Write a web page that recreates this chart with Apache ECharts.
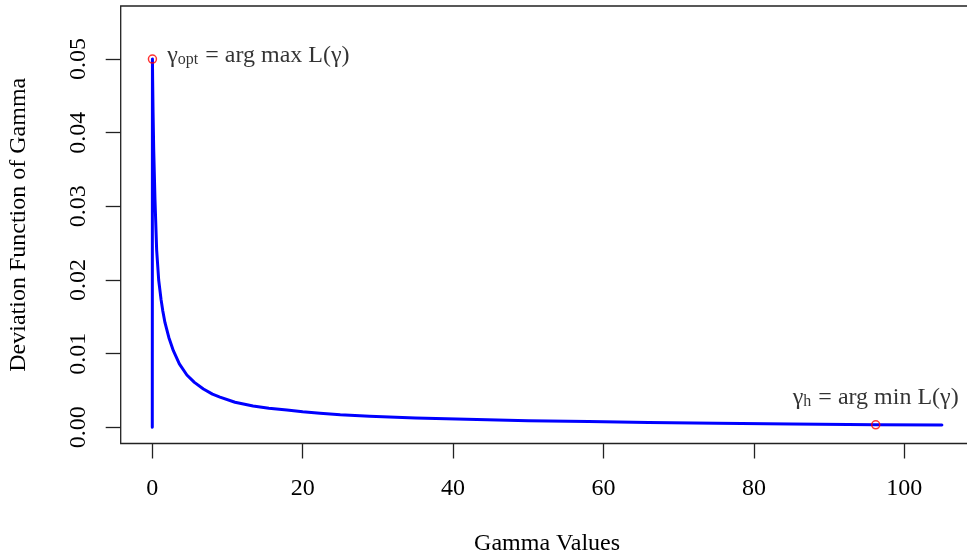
<!DOCTYPE html>
<html>
<head>
<meta charset="utf-8">
<script src="https://cdn.jsdelivr.net/npm/echarts@6/dist/echarts.min.js"></script>
<style>
html,body{margin:0;padding:0;background:#fff;}
#chart{width:967px;height:554px;}
</style>
</head>
<body>
<div id="chart"></div>
<script>
// Data
const gammaValues = [0, 0.02, 0.05, 0.1, 0.19, 0.36, 0.58, 0.85, 1.16, 1.4, 1.69, 2.2, 2.8, 3.6, 4.6, 5.6, 6.8, 8.0, 9.0, 11.0, 13.4, 15.5, 17.9, 20.0, 22.3, 25.0, 28.9, 35.0, 41.8, 50.0, 58.0, 66.0, 75.0, 85.0, 96.2, 105.0];
const deviationValues = [0, 0.0500, 0.0470, 0.0430, 0.0377, 0.0309, 0.0241, 0.0200, 0.0174, 0.0158, 0.0142, 0.0122, 0.0104, 0.0086, 0.0071, 0.0061, 0.0052, 0.0045, 0.0041, 0.0034, 0.0029, 0.0026, 0.00235, 0.0021, 0.0019, 0.0017, 0.0015, 0.00125, 0.0011, 0.0009, 0.0008, 0.00065, 0.00055, 0.00045, 0.00033, 0.00030];
const markGamma = [0.02, 96.2];
const markValues = [0.0500, 0.00033];
const xTicks = [0, 20, 40, 60, 80, 100];
const yTicks = [0, 0.01, 0.02, 0.03, 0.04, 0.05];
const xTitle = 'Gamma Values';
const yTitle = 'Deviation Function of Gamma';

const FONT = '"Liberation Serif", "DejaVu Serif", serif';
const chart = echarts.init(document.getElementById('chart'), null, {renderer: 'canvas'});

const lineData = gammaValues.map((g, i) => [g, deviationValues[i]]);
const richStyle = {
  g: {fontSize: 24, fontFamily: FONT, color: '#000', verticalAlign: 'bottom'},
  s: {fontSize: 16, fontFamily: FONT, color: '#000', verticalAlign: 'bottom', padding: [0, 1, 0, 0]},
  n: {fontSize: 24, fontFamily: FONT, color: '#000', verticalAlign: 'bottom'}
};

chart.setOption({
  animation: false,
  backgroundColor: '#fff',
  grid: {
    left: 120.7, top: 6, width: 852.8, height: 437.5,
    outerBoundsMode: 'none', containLabel: false,
    show: true, borderColor: '#222', borderWidth: 1.3, backgroundColor: 'transparent'
  },
  xAxis: {
    type: 'value', min: -4.2, max: 109.2,
    name: xTitle, nameLocation: 'middle', nameGap: 88,
    nameTextStyle: {fontFamily: FONT, fontSize: 24, color: '#000'},
    axisLine: {show: false, onZero: false},
    splitLine: {show: false},
    axisTick: {show: true, customValues: xTicks, length: 15, inside: false, lineStyle: {color: '#222', width: 1.3}},
    axisLabel: {customValues: xTicks, margin: 33, fontFamily: FONT, fontSize: 24, color: '#000'}
  },
  yAxis: {
    type: 'value', min: -0.0022, max: 0.0572,
    name: yTitle, nameLocation: 'middle', nameGap: 90, nameRotate: 90,
    nameTextStyle: {fontFamily: FONT, fontSize: 24, color: '#000'},
    axisLine: {show: false, onZero: false},
    splitLine: {show: false},
    axisTick: {show: true, customValues: yTicks, length: 15, inside: false, lineStyle: {color: '#222', width: 1.3}},
    axisLabel: {customValues: yTicks, rotate: 90, margin: 30, fontFamily: FONT, fontSize: 24, color: '#000',
      formatter: v => v.toFixed(2)}
  },
  series: [
    {
      type: 'line', data: lineData, smooth: false, showSymbol: false, symbol: 'none',
      lineStyle: {color: '#0000ff', width: 3, cap: 'round', join: 'round'}, z: 2
    },
    {
      type: 'scatter', z: 3,
      data: [
        {value: [markGamma[0], markValues[0]],
         label: {show: true, position: 'right', distance: 10, offset: [0, -3],
           formatter: '{g|γ}{s|opt}{n| = arg max L(γ)}', rich: richStyle}},
        {value: [markGamma[1], markValues[1]],
         label: {show: true, position: 'top', distance: 10,
           formatter: '{g|γ}{s|h}{n| = arg min L(γ)}', rich: richStyle}}
      ],
      symbol: 'circle', symbolSize: 8,
      itemStyle: {color: 'rgba(0,0,0,0)', borderColor: '#ff0000', borderWidth: 1.5}
    }
  ]
});
</script>
</body>
</html>
